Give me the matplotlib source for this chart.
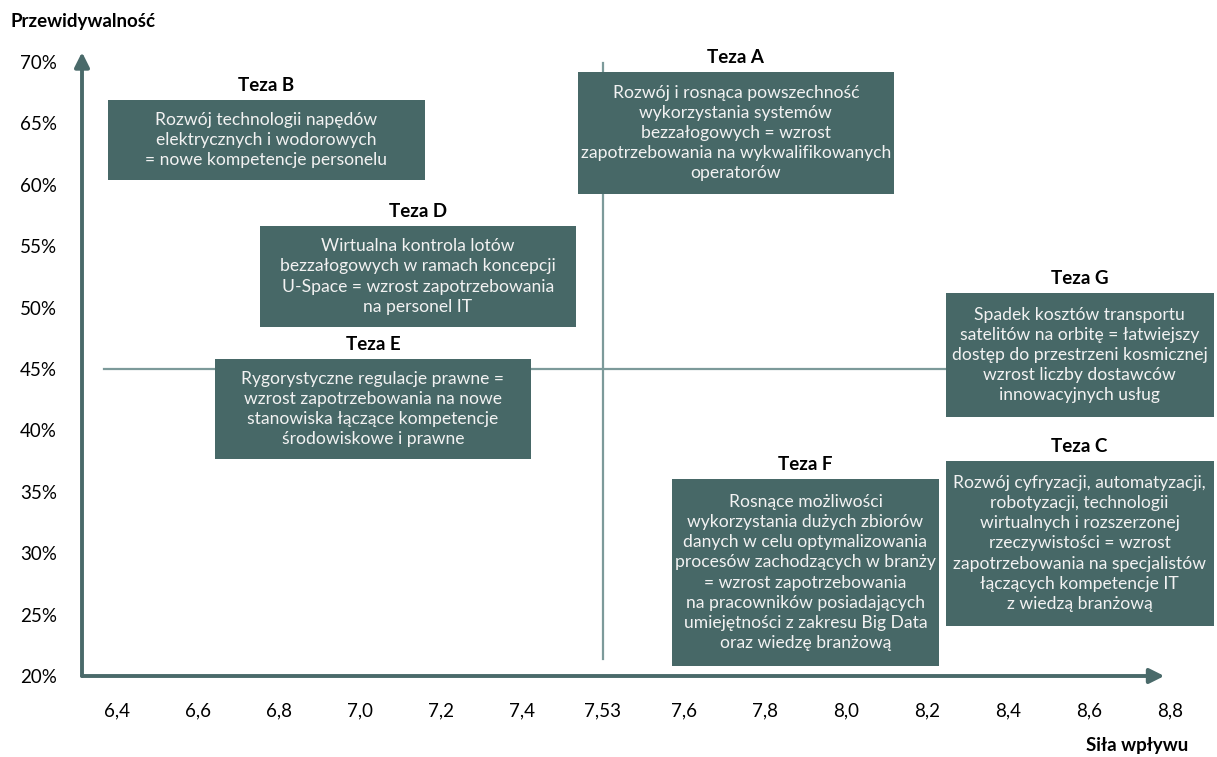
import matplotlib.pyplot as plt
from matplotlib.patches import Rectangle

plt.rcParams['font.family'] = ['Lato', 'DejaVu Sans']

# Impact scale (x) and predictability scale (y)
impact_labels = ["6,4", "6,6", "6,8", "7,0", "7,2", "7,4", "7,53",
                 "7,6", "7,8", "8,0", "8,2", "8,4", "8,6", "8,8"]
predictability_ticks = [20, 25, 30, 35, 40, 45, 50, 55, 60, 65, 70]

# Quadrant split: mean impact (index of "7,53") and mean predictability
impact_split = impact_labels.index("7,53")
predictability_split = 45

theses = ["Teza A", "Teza B", "Teza C", "Teza D", "Teza E", "Teza F", "Teza G"]
descriptions = [
    "Rozwój i rosnąca powszechność\nwykorzystania systemów\nbezzałogowych = wzrost\n"
    "zapotrzebowania na wykwalifikowanych\noperatorów",
    "Rozwój technologii napędów\nelektrycznych i wodorowych\n= nowe kompetencje personelu",
    "Rozwój cyfryzacji, automatyzacji,\nrobotyzacji, technologii\nwirtualnych i rozszerzonej\n"
    "rzeczywistości = wzrost\nzapotrzebowania na specjalistów\nłączących kompetencje IT\n"
    "z wiedzą branżową",
    "Wirtualna kontrola lotów\nbezzałogowych w ramach koncepcji\nU-Space = wzrost zapotrzebowania\n"
    "na personel IT",
    "Rygorystyczne regulacje prawne =\nwzrost zapotrzebowania na nowe\n"
    "stanowiska łączące kompetencje\nśrodowiskowe i prawne",
    "Rosnące możliwości\nwykorzystania dużych zbiorów\ndanych w celu optymalizowania\n"
    "procesów zachodzących w branży\n= wzrost zapotrzebowania\n"
    "na pracowników posiadających\numiejętności z zakresu Big Data\noraz wiedzę branżową",
    "Spadek kosztów transportu\nsatelitów na orbitę = łatwiejszy\ndostęp do przestrzeni kosmicznej\n"
    "wzrost liczby dostawców\ninnowacyjnych usług",
]

# Box extents in axis units: (x0, x1, y0, y1)
box_layout = [
    (5.69, 9.59, 59.25, 69.19),
    (-0.11, 3.80, 60.39, 66.90),
    (10.23, 13.54, 24.07, 37.51),
    (1.76, 5.67, 48.42, 56.65),
    (1.21, 5.11, 37.67, 45.81),
    (6.85, 10.15, 20.81, 36.04),
    (10.23, 13.54, 41.09, 51.19),
]

box_color = "#476867"
axis_color = "#4a6a6a"
line_color = "#7c9a9a"

fig = plt.figure(figsize=(12.17, 7.57), dpi=100)
ax = fig.add_axes([82 / 1217, (757 - 676) / 757, (1170 - 82) / 1217, (676 - 50) / 757])
ax.set_xlim(-35 / 81.15, (1170 - 117) / 81.15)
ax.set_ylim(20, 20 + 626 / 12.28)
for s in ax.spines.values():
    s.set_visible(False)

ax.set_xticks(range(len(impact_labels)))
ax.set_xticklabels(impact_labels, fontsize=13.5)
ax.set_yticks(predictability_ticks)
ax.set_yticklabels([f"{v}%" for v in predictability_ticks], fontsize=13.5)
ax.tick_params(axis='x', length=0, pad=19)
ax.tick_params(axis='y', length=0, pad=18)

x0, x1 = ax.get_xlim()
# axis arrows
ax.annotate("", xy=(x0, 70.8), xytext=(x0, 20), xycoords='data',
            arrowprops=dict(arrowstyle='-|>', color=axis_color, lw=2.8,
                            mutation_scale=22, shrinkA=0, shrinkB=0),
            annotation_clip=False)
ax.annotate("", xy=(12.93, 20), xytext=(x0, 20), xycoords='data',
            arrowprops=dict(arrowstyle='-|>', color=axis_color, lw=2.8,
                            mutation_scale=22, shrinkA=0, shrinkB=0),
            annotation_clip=False)

# quadrant lines
ax.plot([impact_split, impact_split], [21.4, 69.9], color=line_color, lw=1.6, zorder=1)
ax.plot([-0.16, 10.23], [predictability_split, predictability_split],
        color=line_color, lw=1.6, zorder=1)

for name, text, (bx0, bx1, by0, by1) in zip(theses, descriptions, box_layout):
    ax.add_patch(Rectangle((bx0, by0), bx1 - bx0, by1 - by0, facecolor=box_color,
                           edgecolor='none', zorder=2, clip_on=False))
    cx = (bx0 + bx1) / 2
    ax.text(cx, (by0 + by1) / 2, text, ha='center', va='center', color='#f2f2f2',
            fontsize=12.6, linespacing=1.32, zorder=3, clip_on=False)
    ax.text(cx, by1 + 1.15, name, ha='center', va='center', color='black',
            fontsize=13.5, fontweight='bold', zorder=3, clip_on=False)

fig.text(10 / 1217, 1 - 22 / 757, "Przewidywalność", ha='left', va='center',
         fontsize=13.5, fontweight='bold')
fig.text(1188 / 1217, 1 - 746 / 757, "Siła wpływu", ha='right', va='center',
         fontsize=13.5, fontweight='bold')

fig.savefig("out.png", dpi=100)
